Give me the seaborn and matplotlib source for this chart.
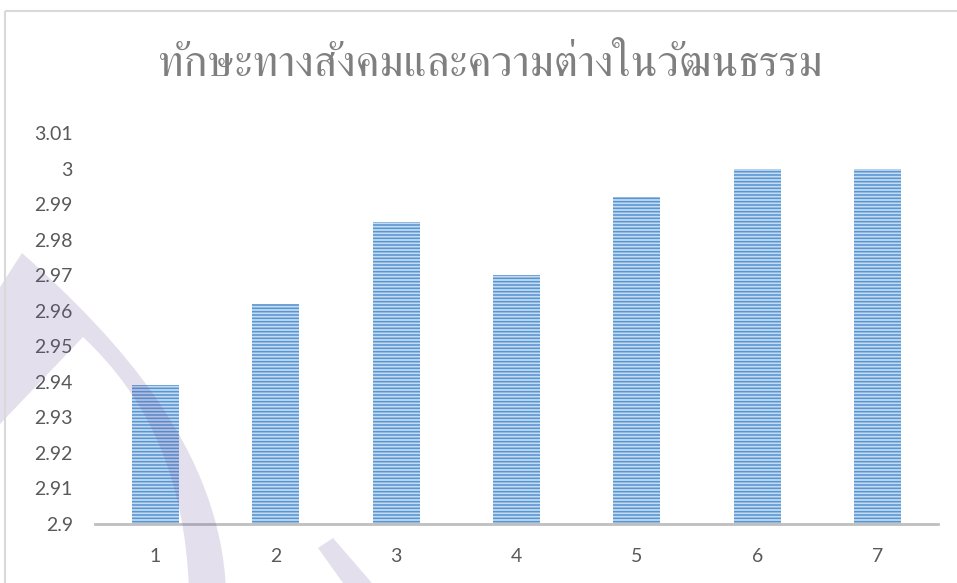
import numpy as np
import matplotlib
matplotlib.use("Agg")
import matplotlib.pyplot as plt
import seaborn as sns
from matplotlib.path import Path
from matplotlib.patches import PathPatch, Rectangle
from matplotlib.transforms import Affine2D

categories = ["1", "2", "3", "4", "5", "6", "7"]
values = [2.939, 2.962, 2.985, 2.970, 2.992, 3.000, 3.000]
yticks = [2.90, 2.91, 2.92, 2.93, 2.94, 2.95, 2.96, 2.97, 2.98, 2.99, 3.00, 3.01]
ytick_labels = ["2.9", "2.91", "2.92", "2.93", "2.94", "2.95", "2.96", "2.97",
                "2.98", "2.99", "3", "3.01"]
title = "ทักษะทางสังคมและความต่างในวัฒนธรรม"

sns.set_theme(style="white")
plt.rcParams["font.family"] = ["Lato", "DejaVu Sans"]
plt.rcParams["hatch.linewidth"] = 1.15

W, H = 957, 583
fig = plt.figure(figsize=(W / 100, H / 100), dpi=100)
fig.patch.set_facecolor("white")
ax = fig.add_axes([95 / W, 1 - 524 / H, (938 - 95) / W, (524 - 133) / H])

sns.barplot(x=categories, y=values, ax=ax, width=0.39, color="#BDD7EE",
            saturation=1, linewidth=0)
for p in ax.patches:
    p.set_hatch("-----")
    p.set_facecolor("#C4DBF1")
    p.set_edgecolor("#5896D2")
    p.set_linewidth(0)

ax.set_ylim(2.9, 3.01)
ax.set_yticks(yticks)
ax.set_yticklabels(ytick_labels)
ax.set_xlabel("")
ax.set_ylabel("")
for s in ["left", "right", "top"]:
    ax.spines[s].set_visible(False)
ax.spines["bottom"].set_color("#BFBFBF")
ax.spines["bottom"].set_linewidth(2)
ax.tick_params(axis="y", length=0, pad=16, labelsize=14, labelcolor="#595959")
ax.tick_params(axis="x", length=0, pad=17, labelsize=14, labelcolor="#595959")

fig.text(0.512, 1 - 66 / H, title, ha="center", va="center",
         color="#7F7F7F", fontsize=32, family=["FreeSerif", "DejaVu Sans"])

tr = Affine2D().scale(1 / W, -1 / H).translate(0, 1) + fig.transFigure
verts = [(0, 287), (22, 253), (120, 340), (220, 450), (226, 590),
         (189, 590), (185, 480), (150, 400), (83, 337), (0, 424), (0, 287)]
codes = [Path.MOVETO, Path.LINETO, Path.CURVE4, Path.CURVE4, Path.CURVE4,
         Path.LINETO, Path.CURVE4, Path.CURVE4, Path.CURVE4, Path.LINETO,
         Path.CLOSEPOLY]
fig.patches.append(PathPatch(Path(verts, codes), transform=tr,
                             facecolor="#6B4FA0", alpha=0.18, lw=0, zorder=5))
v2 = [(318, 548), (333, 538), (378, 590), (348, 590), (318, 548)]
c2 = [Path.MOVETO, Path.LINETO, Path.LINETO, Path.LINETO, Path.CLOSEPOLY]
fig.patches.append(PathPatch(Path(v2, c2), transform=tr,
                             facecolor="#6B4FA0", alpha=0.18, lw=0, zorder=5))
fig.patches.append(Rectangle((4.5, 11), 1000, 1000, transform=tr, fill=False,
                             edgecolor="#D9D9D9", lw=1.5, zorder=6))

fig.savefig("out.png", dpi=100)
